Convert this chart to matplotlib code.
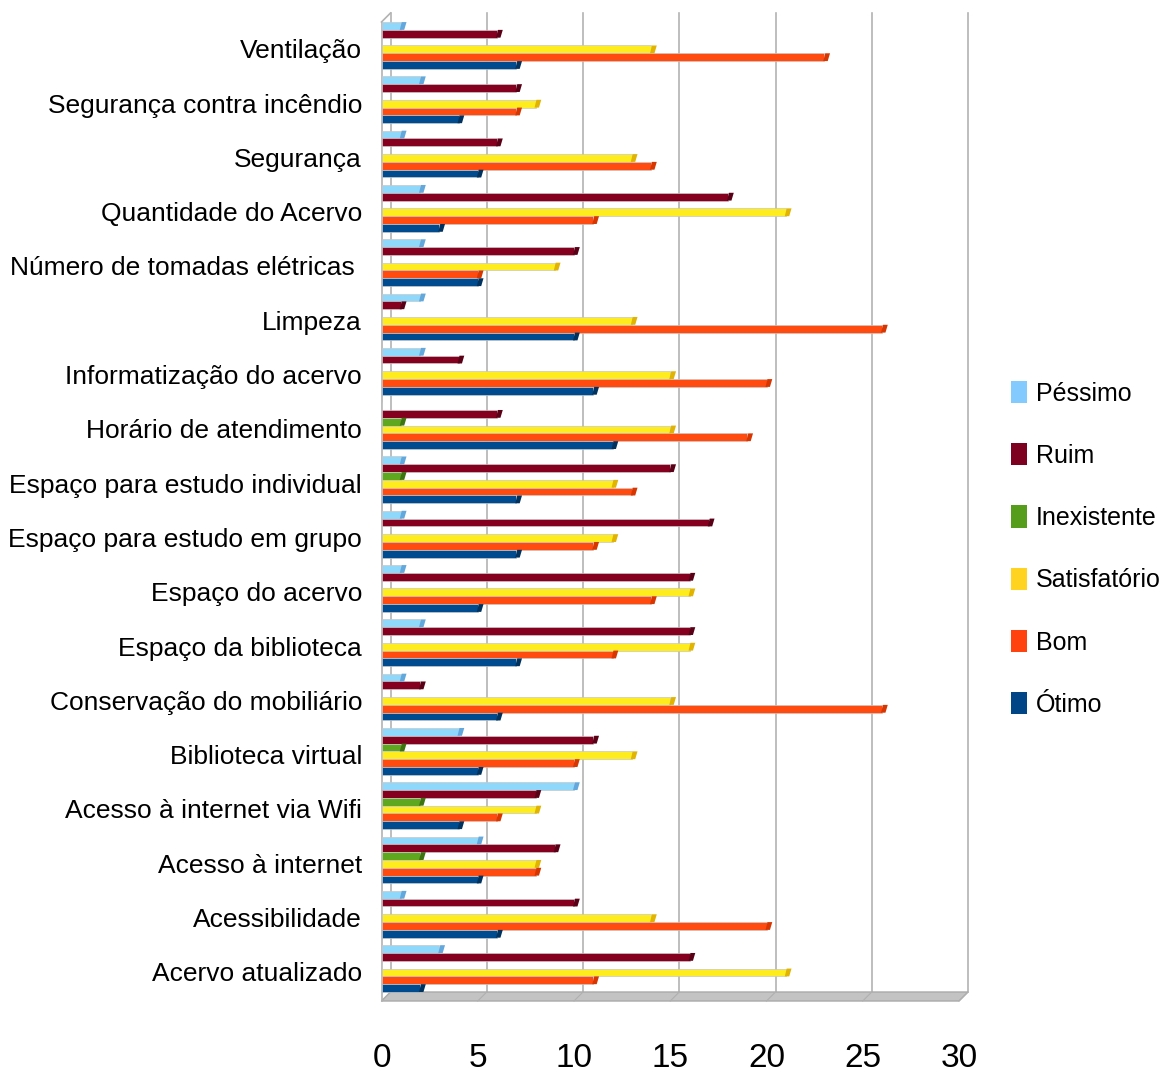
import numpy as np
from matplotlib import pyplot as plt
from matplotlib.patches import Polygon, Patch

# categories from bottom to top (matplotlib barh order)
categories = ["Acervo atualizado", "Acessibilidade", "Acesso à internet",
              "Acesso à internet via Wifi", "Biblioteca virtual",
              "Conservação do mobiliário", "Espaço da biblioteca",
              "Espaço do acervo", "Espaço para estudo em grupo",
              "Espaço para estudo individual", "Horário de atendimento",
              "Informatização do acervo", "Limpeza",
              "Número de tomadas elétricas ", "Quantidade do Acervo",
              "Segurança", "Segurança contra incêndio", "Ventilação"]

series = ["Péssimo", "Ruim", "Inexistente", "Satisfatório", "Bom", "Ótimo"]

pessimo      = [3, 1, 5, 10, 4, 1, 2, 1, 1, 1, 0, 2, 2, 2, 2, 1, 2, 1]
ruim         = [16, 10, 9, 8, 11, 2, 16, 16, 17, 15, 6, 4, 1, 10, 18, 6, 7, 6]
inexistente  = [0, 0, 2, 2, 1, 0, 0, 0, 0, 1, 1, 0, 0, 0, 0, 0, 0, 0]
satisfatorio = [21, 14, 8, 8, 13, 15, 16, 16, 12, 12, 15, 15, 13, 9, 21, 13, 8, 14]
bom          = [11, 20, 8, 6, 10, 26, 12, 14, 11, 13, 19, 20, 26, 5, 11, 14, 7, 23]
otimo        = [2, 6, 5, 4, 5, 6, 7, 5, 7, 7, 12, 11, 10, 5, 3, 5, 4, 7]

values = [pessimo, ruim, inexistente, satisfatorio, bom, otimo]
legend_colors = ["#83caff", "#7e0021", "#579d1c", "#ffd320", "#ff420e", "#004586"]
bar_colors = ["#8fd8fb", "#85001f", "#5fa71e", "#ffec1e", "#ff4a10", "#004b8f"]
cap_colors = ["#62a8dc", "#5a0016", "#3d7410", "#e0b400", "#d83600", "#00325f"]

W, H = 1169, 1074
fig = plt.figure(figsize=(W / 100, H / 100), dpi=100)

px_x = 19.25   # pixels per unit on x
px_y = 54.3    # pixels per category
x0_px, top_px, floor_px = 381.5, 13, 1001
right_px = 970
ax = fig.add_axes([x0_px / W, 1 - floor_px / H, (right_px - x0_px) / W,
                   (floor_px - top_px) / H])

yb = -0.597
ytop = yb + (floor_px - top_px) / px_y
dx = 9 / px_x
dy = 9 / px_y
ax.set_xlim(0, (right_px - x0_px) / px_x)
ax.set_ylim(yb, ytop)

# back wall grid lines
for v in range(0, 31, 5):
    ax.plot([v + dx, v + dx], [yb + dy, ytop], color="#b3b3b3", lw=1.2,
            zorder=1, clip_on=False)
    ax.plot([v, v + dx], [yb, yb + dy], color="#b0b0b0", lw=0.8, zorder=2,
            clip_on=False)

# left side wall edge
ax.plot([0, 0], [yb, ytop - dy], color="#b3b3b3", lw=1.2, clip_on=False)
ax.plot([0, dx], [ytop - dy, ytop], color="#b3b3b3", lw=1.2, clip_on=False)

# floor
floor = Polygon([(0, yb), (30, yb), (30 + dx, yb + dy), (dx, yb + dy)],
                closed=True, facecolor="#c3c3c3", edgecolor="#aaaaaa",
                lw=1, zorder=1.5, clip_on=False)
ax.add_patch(floor)

h = 0.1437
y = np.arange(len(categories))
cap = 0.3
for k, vals in enumerate(values):
    yk = y + (2.5 - k) * h
    ax.barh(yk, vals, height=h, color=bar_colors[k], edgecolor="#c8c8c8",
            linewidth=0.5, zorder=3)
    for yy, v in zip(yk, vals):
        if v == 0:
            continue
        ax.add_patch(Polygon([(v - 0.05, yy - h / 2), (v + cap * 0.6, yy - h / 2),
                              (v + cap, yy + h / 2), (v + 0.05, yy + h / 2)],
                             closed=True, facecolor=cap_colors[k],
                             edgecolor="none", zorder=3.5))

for s in ax.spines.values():
    s.set_visible(False)

ax.set_yticks(y - 0.06)
ax.set_yticklabels(categories, family=["Liberation Sans", "DejaVu Sans"],
                   fontsize=19)
ax.tick_params(axis="y", length=0, pad=14)

ax.set_xticks(range(0, 31, 5))
ax.set_xticklabels([str(v) for v in range(0, 31, 5)],
                   family=["Liberation Sans", "DejaVu Sans"], fontsize=24)
ax.tick_params(axis="x", length=0, pad=30)

handles = [Patch(facecolor=c, edgecolor="none") for c in legend_colors]
fig.legend(handles, series, loc="center left", bbox_to_anchor=(1011 / W, 0.489),
           frameon=False, borderpad=0, borderaxespad=0,
           handlelength=0.62, handleheight=1.0,
           handletextpad=0.36, labelspacing=1.5,
           prop={"family": ["Liberation Sans", "DejaVu Sans"], "size": 18})

fig.savefig("out.png", dpi=100)
